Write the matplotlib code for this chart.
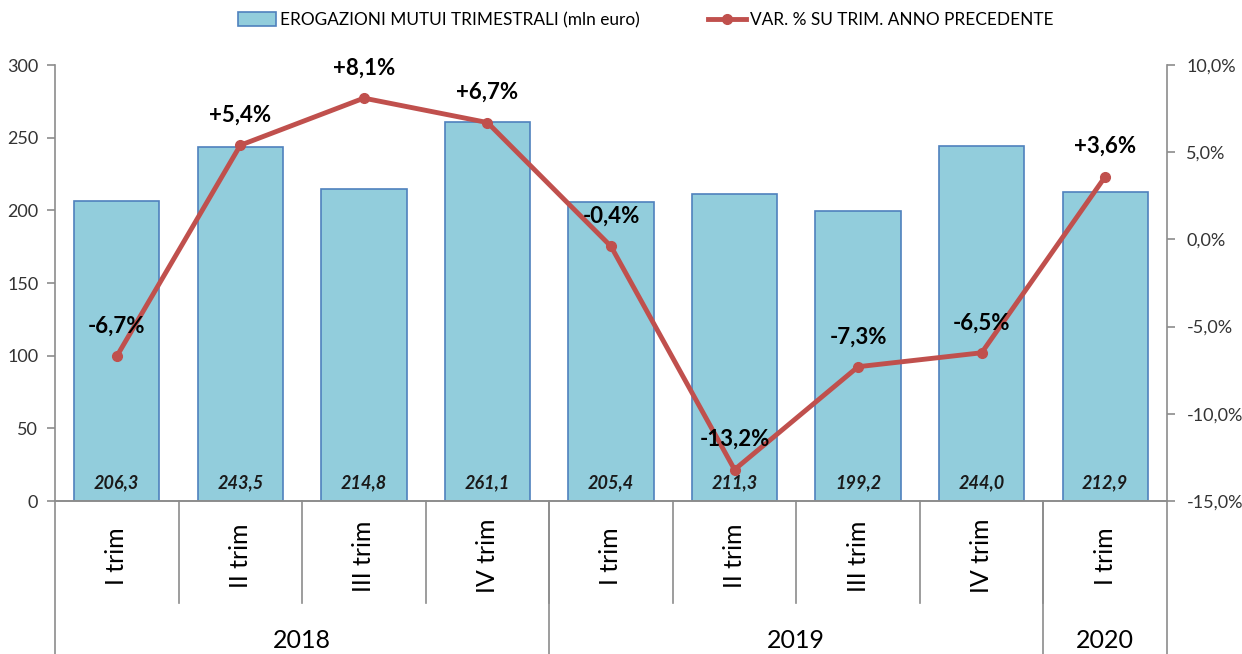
import matplotlib.pyplot as plt
import numpy as np

plt.rcParams['font.family'] = ['Lato', 'DejaVu Sans']

trimestri = ['I trim', 'II trim', 'III trim', 'IV trim', 'I trim', 'II trim', 'III trim', 'IV trim', 'I trim']
anni = ['2018', '2019', '2020']
quarti_per_anno = [4, 4, 1]
erogazioni = [206.3, 243.5, 214.8, 261.1, 205.4, 211.3, 199.2, 244.0, 212.9]
variazioni = [-6.7, 5.4, 8.1, 6.7, -0.4, -13.2, -7.3, -6.5, 3.6]

def virgola(v, dec=1):
    return f'{v:.{dec}f}'.replace('.', ',')

fig = plt.figure(figsize=(12.42, 6.54), dpi=100)
ax = fig.add_axes([55 / 1242, 1 - 501 / 654, (1167 - 55) / 1242, (501 - 65) / 654])
x = np.arange(len(erogazioni))

grigio = '#8c8c8c'
bars = ax.bar(x, erogazioni, width=0.69, color='#92CDDC', edgecolor='#4F81BD', linewidth=1.2,
              label='EROGAZIONI MUTUI TRIMESTRALI (mln euro)', zorder=2)
ax.set_xlim(-0.5, len(x) - 0.5)
ax.set_ylim(0, 300)
ax.set_yticks(range(0, 301, 50))
ax.set_xticks([])
for b, v in zip(bars, erogazioni):
    ax.text(b.get_x() + b.get_width() / 2, 6.5, virgola(v), ha='center', va='bottom',
            fontsize=13, fontweight='bold', style='italic', color='#1a1a1a', zorder=5)

ax2 = ax.twinx()
ax2.set_ylim(-15, 10)
ax2.set_yticks(range(-15, 11, 5))
ax2.set_yticklabels([virgola(t) + '%' for t in range(-15, 11, 5)])
line, = ax2.plot(x, variazioni, color='#C0504D', linewidth=3.5, marker='o', markersize=7,
                 label='VAR. % SU TRIM. ANNO PRECEDENTE', zorder=3)
for xi, v in zip(x, variazioni):
    lab = ('+' if v > 0 else '') + virgola(v) + '%'
    ax2.annotate(lab, (xi, v), xytext=(0, 14), textcoords='offset points', ha='center', va='bottom',
                 fontsize=16, fontweight='bold', color='black', zorder=6)

for a in (ax, ax2):
    for s in a.spines.values():
        s.set_color(grigio)
        s.set_linewidth(1.2)
    a.spines['top'].set_visible(False)
    a.tick_params(axis='y', colors=grigio, labelcolor='#333333', labelsize=13, length=6, width=1.2)
ax.spines['right'].set_visible(False)
ax2.spines['left'].set_visible(False)
ax.tick_params(axis='y', pad=6)
ax2.tick_params(axis='y', pad=8)

# asse categorie a due livelli
tr = ax.get_xaxis_transform()
h_ax = (501 - 65) / 654
frac = lambda px: px / 654 / h_ax
for i in range(1, len(x)):
    ax.plot([i - 0.5, i - 0.5], [0, -frac(102)], color=grigio, lw=1.2, transform=tr, clip_on=False)
pos = -0.5
ax.plot([pos, pos], [0, -frac(160)], color=grigio, lw=1.2, transform=tr, clip_on=False)
for anno, n in zip(anni, quarti_per_anno):
    ax.text(pos + n / 2, -frac(140), anno, ha='center', va='center', fontsize=18, color='black',
            transform=tr)
    pos += n
    ax.plot([pos, pos], [0, -frac(160)], color=grigio, lw=1.2, transform=tr, clip_on=False)
for xi, t in zip(x, trimestri):
    ax.text(xi, -frac(55), t, ha='center', va='center', rotation=90, fontsize=18, color='black',
            transform=tr)

fig.legend(handles=[bars, line], loc='center', bbox_to_anchor=(0.52, 1 - 20 / 654), ncol=2,
           frameon=False, fontsize=12.4, handlelength=2.2, handleheight=0.8, columnspacing=4,
           handletextpad=0.2)

fig.savefig('out.png', dpi=100)
